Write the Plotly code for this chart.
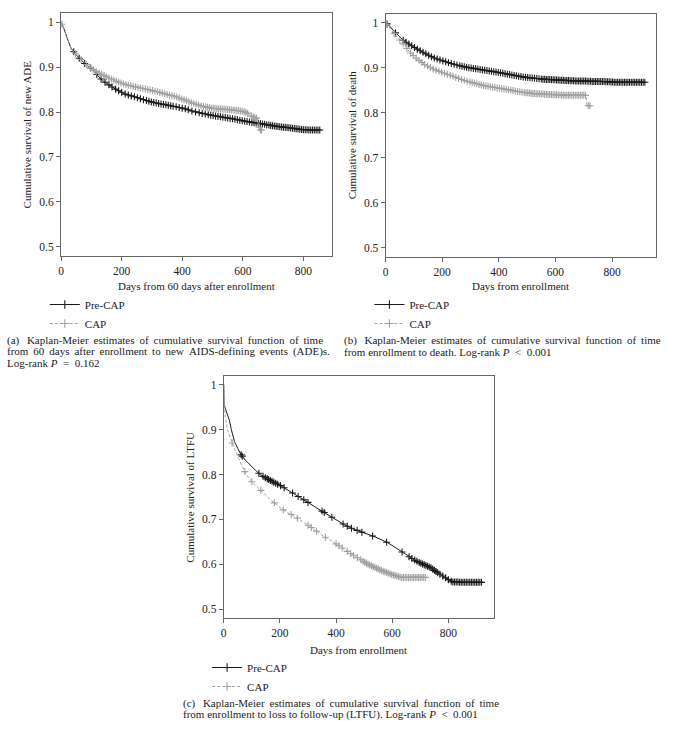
import numpy as np
import plotly.graph_objects as go

# ---------------- data ----------------
# Panel (a): days from 60 days after enrollment to new ADE
a_pre_days = [0, 10, 20, 33, 45, 60, 80, 104, 120, 137, 155, 170, 185, 212, 247, 275, 301, 330, 356, 385, 411, 433, 466, 495, 521, 548, 575, 602, 630, 652, 685, 712, 740, 762, 795, 825, 855]
a_pre_surv = [1.0, 0.985, 0.965, 0.942, 0.932, 0.920, 0.907, 0.895, 0.882, 0.870, 0.862, 0.855, 0.849, 0.840, 0.833, 0.827, 0.822, 0.818, 0.815, 0.811, 0.807, 0.802, 0.797, 0.793, 0.790, 0.787, 0.784, 0.780, 0.777, 0.775, 0.771, 0.768, 0.766, 0.764, 0.761, 0.760, 0.760]
a_pre_cens = [42, 60, 78, 98, 118, 132, 145, 158, 168, 180, 190, 200, 212, 222, 232, 242, 252, 262, 272, 282, 290, 298, 306, 314, 322, 330, 338, 346, 354, 362, 370, 380, 390, 400, 410, 420, 432, 444, 456, 466, 476, 486, 494, 502, 510, 518, 526, 534, 542, 550, 558, 566, 574, 582, 590, 598, 606, 614, 622, 630, 637, 644, 651, 658, 665, 672, 679, 686, 692, 698, 704, 710, 716, 722, 728, 734, 740, 746, 752, 758, 764, 770, 776, 782, 788, 794, 800, 806, 812, 818, 824, 830, 836, 842, 848, 854]

a_cap_days = [0, 10, 20, 33, 45, 60, 80, 102, 120, 137, 157, 175, 192, 220, 247, 266, 301, 330, 356, 376, 411, 433, 466, 495, 521, 548, 575, 597, 612, 624, 641, 648, 652, 657, 662]
a_cap_surv = [1.0, 0.985, 0.965, 0.942, 0.932, 0.921, 0.908, 0.896, 0.889, 0.883, 0.876, 0.871, 0.866, 0.860, 0.856, 0.853, 0.848, 0.843, 0.838, 0.835, 0.826, 0.820, 0.813, 0.809, 0.807, 0.806, 0.804, 0.802, 0.799, 0.793, 0.787, 0.786, 0.770, 0.760, 0.760]
a_cap_cens = [3, 48, 66, 84, 96, 106, 116, 126, 134, 142, 150, 158, 166, 174, 182, 190, 198, 206, 214, 222, 230, 238, 246, 254, 262, 270, 278, 286, 294, 302, 310, 318, 326, 334, 342, 350, 358, 366, 374, 382, 390, 398, 406, 414, 422, 430, 438, 446, 454, 462, 470, 478, 484, 490, 496, 502, 508, 514, 520, 526, 532, 538, 544, 550, 556, 562, 568, 574, 580, 586, 592, 598, 604, 610, 616, 628, 634, 640, 645, 654, 658, 662]

# Panel (b): days from enrollment to death
b_pre_days = [0, 10, 32, 50, 67, 90, 114, 140, 172, 200, 231, 260, 290, 320, 348, 380, 407, 440, 466, 495, 524, 555, 583, 612, 642, 670, 700, 730, 759, 790, 818, 860, 917]
b_pre_surv = [1.0, 0.996, 0.980, 0.968, 0.959, 0.950, 0.941, 0.932, 0.922, 0.916, 0.910, 0.905, 0.901, 0.898, 0.895, 0.892, 0.889, 0.885, 0.882, 0.879, 0.877, 0.875, 0.874, 0.873, 0.872, 0.871, 0.871, 0.870, 0.870, 0.869, 0.868, 0.868, 0.868]
b_pre_cens = [5, 35, 62, 72, 82, 92, 102, 112, 122, 132, 142, 152, 162, 172, 182, 192, 202, 212, 222, 232, 242, 252, 262, 270, 278, 286, 294, 302, 310, 318, 326, 334, 342, 350, 358, 366, 374, 382, 390, 398, 406, 414, 422, 430, 438, 446, 454, 462, 470, 478, 486, 494, 502, 510, 518, 526, 534, 542, 550, 556, 562, 568, 574, 580, 586, 592, 598, 604, 610, 616, 622, 628, 634, 640, 646, 652, 658, 664, 670, 676, 682, 688, 694, 700, 706, 712, 718, 724, 730, 736, 742, 748, 754, 760, 766, 772, 778, 784, 790, 796, 802, 808, 814, 820, 826, 832, 838, 844, 850, 856, 862, 868, 874, 880, 886, 892, 898, 904, 910, 916]

b_cap_days = [0, 10, 39, 67, 85, 109, 137, 170, 200, 227, 260, 290, 320, 344, 380, 407, 440, 461, 495, 524, 555, 577, 610, 642, 680, 708, 712, 724]
b_cap_surv = [1.0, 0.992, 0.970, 0.950, 0.935, 0.921, 0.908, 0.897, 0.890, 0.884, 0.876, 0.870, 0.865, 0.861, 0.857, 0.854, 0.851, 0.848, 0.845, 0.843, 0.842, 0.841, 0.840, 0.839, 0.839, 0.839, 0.816, 0.816]
b_cap_cens = [5, 30, 50, 62, 75, 88, 98, 108, 118, 128, 138, 148, 158, 168, 178, 188, 198, 208, 218, 228, 238, 248, 258, 268, 278, 288, 298, 306, 314, 322, 330, 338, 346, 354, 362, 370, 378, 386, 394, 402, 410, 418, 426, 434, 442, 450, 458, 466, 474, 482, 490, 496, 502, 508, 514, 520, 526, 532, 538, 544, 550, 556, 562, 568, 574, 580, 586, 592, 598, 604, 610, 616, 622, 628, 634, 640, 646, 652, 658, 664, 670, 676, 682, 688, 694, 700, 706, 716, 722]

# Panel (c): days from enrollment to loss to follow-up
c_pre_days = [0, 1, 5, 12, 20, 27, 38, 50, 61, 77, 95, 112, 130, 150, 175, 200, 230, 260, 290, 330, 365, 397, 430, 460, 500, 540, 585, 632, 665, 690, 712, 739, 760, 780, 800, 815, 860, 922]
c_pre_surv = [1.0, 0.955, 0.948, 0.936, 0.921, 0.900, 0.874, 0.858, 0.845, 0.832, 0.820, 0.810, 0.800, 0.792, 0.784, 0.776, 0.765, 0.753, 0.742, 0.726, 0.713, 0.700, 0.688, 0.679, 0.670, 0.661, 0.648, 0.629, 0.615, 0.606, 0.600, 0.592, 0.582, 0.574, 0.566, 0.561, 0.560, 0.560]
c_pre_cens = [62, 66, 125, 140, 148, 155, 160, 166, 172, 178, 185, 192, 202, 215, 245, 265, 285, 300, 350, 358, 385, 425, 440, 455, 475, 492, 530, 580, 635, 660, 670, 680, 688, 696, 702, 708, 714, 720, 726, 732, 738, 744, 750, 756, 762, 770, 780, 790, 800, 810, 816, 822, 828, 834, 840, 846, 852, 858, 864, 870, 876, 882, 888, 894, 900, 906, 912, 918]

c_cap_days = [0, 2, 5, 13, 25, 40, 60, 80, 100, 130, 170, 210, 240, 270, 310, 350, 390, 430, 470, 515, 560, 600, 632, 680, 722]
c_cap_surv = [1.0, 0.960, 0.930, 0.900, 0.878, 0.855, 0.826, 0.800, 0.784, 0.766, 0.742, 0.722, 0.711, 0.700, 0.683, 0.665, 0.650, 0.633, 0.617, 0.600, 0.587, 0.577, 0.571, 0.571, 0.571]
c_cap_cens = [30, 75, 100, 132, 180, 212, 240, 262, 300, 312, 330, 362, 400, 410, 422, 440, 452, 462, 476, 488, 496, 502, 508, 514, 520, 526, 532, 538, 544, 550, 556, 562, 568, 574, 580, 586, 592, 598, 604, 610, 616, 622, 628, 634, 640, 646, 652, 658, 664, 670, 676, 682, 688, 694, 700, 706, 712, 718]

group_names = ["Pre-CAP", "CAP"]
x_ticks = [0, 200, 400, 600, 800]
y_ticks = [0.5, 0.6, 0.7, 0.8, 0.9, 1.0]
y_tick_text = ["0.5", "0.6", "0.7", "0.8", "0.9", "1"]

y_titles = ["Cumulative survival of new ADE", "Cumulative survival of death", "Cumulative survival of LTFU"]
x_titles = ["Days from 60 days after enrollment", "Days from enrollment", "Days from enrollment"]
# (text, justified?)
captions = [
    [("(a)\u00a0 Kaplan-Meier estimates of cumulative survival function of time", True),
     ("from 60 days after enrollment to new AIDS-defining events (ADE)s.", True),
     ("Log-rank <i>P</i>\u00a0\u00a0=\u00a0\u00a00.162", False)],
    [("(b)\u00a0 Kaplan-Meier estimates of cumulative survival function of time", True),
     ("from enrollment to death. Log-rank <i>P</i>\u00a0\u00a0&lt;\u00a0\u00a00.001", False)],
    [("(c)\u00a0 Kaplan-Meier estimates of cumulative survival function of time", True),
     ("from enrollment to loss to follow-up (LTFU). Log-rank <i>P</i>\u00a0\u00a0&lt;\u00a0\u00a00.001", False)],
]

# ---------------- styling / layout ----------------
W, H = 698, 729
FONT = "Liberation Serif, Times New Roman, serif"
BLACK = "#1a1a1a"
GRAY = "#a0a0a0"
TXT = "#222222"

# plot boxes in pixels: left, right, top, bottom
boxes = [(58.3, 330.0, 13.3, 255.7), (384.3, 655.7, 14.0, 256.7), (221.7, 492.7, 375.7, 618.3)]
x_max = [893, 955, 961]
legend_left = [42, 368, 205]
legend_tops = [290, 290, 653]
title_y = [285.7, 286.0, 650.0]
ytitle_x = [25.0, 350.5, 187.5]
cap_pos = [(2.5, 340.7), (340.0, 340.7), (179.0, 703.3)]
cap_lh = 11.0

panels = [
    (a_pre_days, a_pre_surv, a_pre_cens, a_cap_days, a_cap_surv, a_cap_cens),
    (b_pre_days, b_pre_surv, b_pre_cens, b_cap_days, b_cap_surv, b_cap_cens),
    (c_pre_days, c_pre_surv, c_pre_cens, c_cap_days, c_cap_surv, c_cap_cens),
]

fig = go.Figure()
annotations = []
layout_axes = {}

for i, (pd_, ps_, pc_, cd_, cs_, cc_) in enumerate(panels):
    n = i + 1
    xa = "x" if n == 1 else f"x{n}"
    ya = "y" if n == 1 else f"y{n}"
    lg = "legend" if n == 1 else f"legend{n}"
    series = [
        (group_names[0], pd_, ps_, pc_, BLACK, "solid"),
        (group_names[1], cd_, cs_, cc_, GRAY, "3px,2px"),
    ]
    for name, d, s, c, col, dash in series:
        # survival curve
        fig.add_trace(go.Scatter(x=d, y=s, mode="lines", xaxis=xa, yaxis=ya,
                                 line=dict(color=col, width=1, dash=dash),
                                 showlegend=False, hoverinfo="skip"))
        # censoring marks sit on the curve
        cy = np.interp(c, d, s)
        fig.add_trace(go.Scatter(x=c, y=cy, mode="markers", xaxis=xa, yaxis=ya,
                                 marker=dict(symbol="cross-thin", size=5,
                                             line=dict(color=col, width=1.1)),
                                 showlegend=False, hoverinfo="skip"))
        # legend entry (line with a censor mark)
        fig.add_trace(go.Scatter(x=[None], y=[None], mode="lines+markers", xaxis=xa, yaxis=ya,
                                 name=name, legend=lg,
                                 line=dict(color=col, width=1, dash=dash),
                                 marker=dict(symbol="cross-thin", size=6,
                                             line=dict(color=col, width=1.1))))

    l, r, t, b = boxes[i]
    axis_common = dict(showline=True, linecolor="#666666", linewidth=1, mirror=True,
                       ticks="outside", ticklen=4, tickwidth=1, tickcolor="#666666",
                       showgrid=False, zeroline=False,
                       tickfont=dict(family=FONT, size=11.5, color=TXT))
    layout_axes["xaxis" if n == 1 else f"xaxis{n}"] = dict(
        domain=[l / W, r / W], range=[0, x_max[i]], anchor=ya,
        tickvals=x_ticks, **axis_common)
    layout_axes["yaxis" if n == 1 else f"yaxis{n}"] = dict(
        domain=[1 - b / H, 1 - t / H], range=[0.48, 1.02], anchor=xa,
        tickvals=y_ticks, ticktext=y_tick_text, **axis_common)

    layout_axes[lg] = dict(x=legend_left[i] / W, y=1 - legend_tops[i] / H, xanchor="left", yanchor="top",
                           bgcolor="rgba(0,0,0,0)", borderwidth=0, itemwidth=30,
                           font=dict(family=FONT, size=11, color=TXT), traceorder="normal")

    # axis titles
    annotations.append(dict(text=x_titles[i], xref="paper", yref="paper",
                            x=(l + r) / 2 / W, y=1 - title_y[i] / H, xanchor="center", yanchor="middle",
                            showarrow=False, font=dict(family=FONT, size=11, color=TXT)))
    annotations.append(dict(text=y_titles[i], xref="paper", yref="paper", textangle=-90,
                            x=ytitle_x[i] / W, y=1 - (t + b) / 2 / H, xanchor="center", yanchor="middle",
                            showarrow=False, font=dict(family=FONT, size=11, color=TXT)))
    # captions (justified lines get a thin space added after each word gap)
    cx, cy0 = cap_pos[i]
    for k, (line, just) in enumerate(captions[i]):
        txt = line.replace(" ", " \u2009") if just else line
        annotations.append(dict(text=txt, xref="paper", yref="paper",
                                x=cx / W, y=1 - (cy0 + k * cap_lh) / H, xanchor="left", yanchor="middle",
                                showarrow=False, font=dict(family=FONT, size=11, color=TXT)))

fig.update_layout(width=W, height=H, margin=dict(l=0, r=0, t=0, b=0),
                  paper_bgcolor="white", plot_bgcolor="white",
                  annotations=annotations, **layout_axes)

fig.write_html("out.html", config={"displayModeBar": False},
               post_script="document.body.style.margin='0';document.body.style.overflow='hidden';")
